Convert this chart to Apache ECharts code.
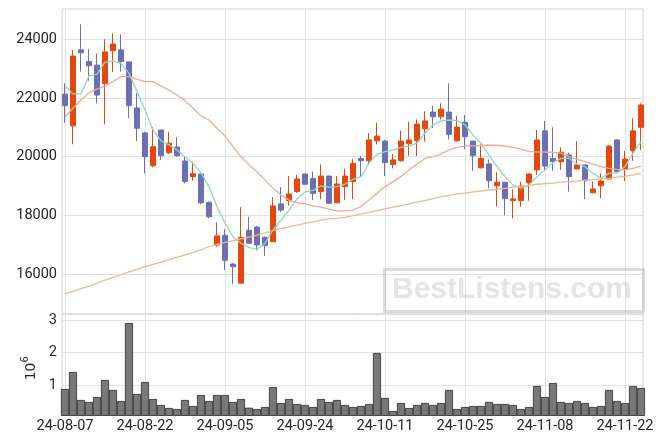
<!DOCTYPE html>
<html>
<head>
<meta charset="utf-8">
<script src="https://cdn.jsdelivr.net/npm/echarts@6/dist/echarts.min.js"></script>
<style>html,body{margin:0;padding:0;background:#fff}#c{width:663px;height:444px}</style>
</head>
<body>
<div id="c"></div>
<script>
const dates = ['24-08-07','24-08-08','24-08-09','24-08-12','24-08-13','24-08-14','24-08-16','24-08-19','24-08-20','24-08-21','24-08-22',
'24-08-23','24-08-26','24-08-27','24-08-28','24-08-29','24-08-30','24-09-02','24-09-03','24-09-04','24-09-05',
'24-09-06','24-09-09','24-09-10','24-09-11','24-09-12','24-09-13','24-09-19','24-09-20','24-09-23','24-09-24',
'24-09-25','24-09-26','24-09-27','24-09-30','24-10-02','24-10-04','24-10-07','24-10-08','24-10-10','24-10-11',
'24-10-14','24-10-15','24-10-16','24-10-17','24-10-18','24-10-21','24-10-22','24-10-23','24-10-24','24-10-25',
'24-10-28','24-10-29','24-10-30','24-10-31','24-11-01','24-11-04','24-11-05','24-11-06','24-11-07','24-11-08',
'24-11-11','24-11-12','24-11-13','24-11-14','24-11-15','24-11-18','24-11-19','24-11-20','24-11-21','24-11-22',
'24-11-25','24-11-26'];
const openP  = [22130,21050,23640,23240,23120,22490,23610,23640,23230,21660,20810,19690,20910,20135,20330,19850,19320,19410,18450,16990,17320,16340,15690,17490,17600,17250,17100,18390,18500,18810,19410,19260,18810,19340,18430,18980,19150,19940,19860,20540,20530,19740,19860,20440,20540,20950,21520,21360,21520,20540,21170,20530,19620,19750,19010,19130,18500,18500,19110,19550,20880,19940,19830,20060,19580,19720,18770,19010,19240,20570,19580,20200,21000];
const closeP = [21740,23430,23540,23100,22100,23570,23840,23240,21740,20970,20000,20340,20030,20460,20030,19150,19420,18430,17950,17300,16470,16250,17250,17050,16990,16970,18320,18180,18730,19240,19060,18750,19340,18410,19070,19340,19770,19860,20570,20700,19800,19890,20530,20570,21110,21220,21360,21620,20760,21010,20680,20030,19940,19180,19130,18570,18560,19000,19410,20570,19680,19830,20150,19320,19720,19180,18900,19170,20360,19490,19920,20880,21760];
const highP  = [22500,23640,24510,23660,23520,24000,24200,24170,23240,22160,20850,21000,20920,20850,20660,20000,19830,19420,18460,17760,17530,16370,18280,17950,17640,17280,18620,18960,19340,19380,19420,19490,19740,19350,19340,19590,19910,20020,20800,21160,20570,20090,20890,21190,21270,21550,21740,21820,22500,21390,21420,20540,20420,19910,19470,19140,18890,19150,19420,20910,21220,21000,20320,20140,20530,19730,19150,19430,20400,20600,20200,21310,21820];
const lowP   = [21160,20420,22900,22590,21820,21100,22880,22900,21310,20530,19430,19640,19890,20090,20000,19090,19180,18380,17900,16930,16140,15660,15660,17040,16800,16620,17090,18120,18330,18770,19050,18520,18550,18400,18410,18520,18550,19320,19770,20420,19340,19600,19830,20030,20020,20510,20970,21270,20590,20510,20250,19520,19600,18920,18300,18000,17900,18300,18500,19380,19520,19520,19550,18810,19570,18550,18750,18580,19230,19460,19170,19860,20230];
const volume = [877000,1400000,538000,477000,631000,1154000,846000,508000,2908000,723000,1092000,569000,385000,292000,262000,538000,354000,692000,508000,692000,692000,477000,569000,302000,262000,323000,938000,446000,569000,415000,385000,323000,569000,477000,538000,385000,323000,354000,415000,1985000,600000,200000,446000,292000,385000,446000,385000,446000,846000,262000,323000,354000,354000,477000,415000,415000,385000,262000,323000,969000,631000,1062000,477000,446000,508000,446000,323000,354000,846000,508000,446000,969000,908000];
const ma5  = [22410,22140,22140,22750,22810,23220,23260,23180,22840,22220,21590,20910,20540,20400,20230,20000,19770,19450,18980,18300,17730,17270,17050,16910,16840,17050,17500,17840,18180,18560,18800,18850,19000,18960,18980,19060,19230,19320,19780,20080,20170,20230,20320,20360,20460,20800,21080,21220,21250,21230,21080,20740,20460,20050,19660,19320,19030,18920,19030,19320,19550,19800,19940,19940,19750,19660,19430,19260,19430,19450,19660,20120,20510];
const ma20 = [21360,21650,21930,22180,22300,22410,22560,22730,22730,22640,22560,22560,22410,22270,22100,21910,21650,21390,21250,20970,20700,20340,20000,19720,19490,19210,18920,18690,18520,18430,18390,18320,18280,18210,18150,18150,18180,18300,18520,18750,18980,19150,19320,19550,19750,19940,20000,20090,20230,20320,20360,20370,20380,20390,20390,20360,20320,20250,20180,20160,20160,20150,20120,20000,19910,19830,19750,19660,19600,19570,19550,19600,19680];
const ma60 = [15320,15410,15500,15590,15680,15790,15890,15980,16070,16160,16250,16330,16410,16490,16570,16650,16730,16820,16930,17010,17080,17140,17200,17260,17330,17400,17480,17550,17610,17670,17730,17780,17840,17880,17900,17930,17990,18050,18100,18160,18220,18280,18330,18390,18450,18500,18570,18630,18680,18730,18760,18800,18830,18860,18890,18920,18960,18990,19020,19060,19080,19100,19130,19150,19170,19200,19220,19240,19260,19300,19330,19380,19430];
const xTickIdx = [0,10,20,30,40,50,60,70];
const priceTicks = [16000,18000,20000,22000,24000];
const volTicks = [1000000,2000000,3000000];

const UP = '#e4480f', DOWN = '#6b6fb3';
const GRIDC = '#e2e2e2', FRAME = '#d2d2d2';
const FONT = 'Roboto';
const chart = echarts.init(document.getElementById('c'), null, {renderer: 'canvas'});
const candleData = dates.map((d, i) => [i, openP[i], closeP[i], lowP[i], highP[i]]);
const xy = arr => arr.map((v, i) => [i, v]);
const lbl = {fontFamily: FONT, fontSize: 14.5, color: '#262626'};
const option = {
  animation: false,
  backgroundColor: '#ffffff',
  grid: [
    {left: 62, top: 9, width: 581, height: 305, show: true, borderColor: FRAME, borderWidth: 1, backgroundColor: 'rgba(0,0,0,0)'},
    {left: 62, top: 314, width: 581, height: 101.5, show: true, borderColor: FRAME, borderWidth: 1, backgroundColor: 'rgba(0,0,0,0)'}
  ],
  xAxis: [
    {type: 'value', gridIndex: 0, min: -0.375, max: 72.25, axisLine: {show: false},
     axisTick: {show: false, customValues: xTickIdx}, axisLabel: {show: false, customValues: xTickIdx},
     splitLine: {show: true, lineStyle: {color: GRIDC, width: 1}}},
    {type: 'value', gridIndex: 1, min: -0.375, max: 72.25, axisLine: {show: false},
     axisTick: {show: false, customValues: xTickIdx},
     axisLabel: Object.assign({show: true, customValues: xTickIdx, margin: 3, formatter: v => dates[Math.round(v)]}, lbl),
     splitLine: {show: true, lineStyle: {color: GRIDC, width: 1}}}
  ],
  yAxis: [
    {type: 'value', gridIndex: 0, min: 14638, max: 25033, axisLine: {show: false},
     axisTick: {show: false, customValues: priceTicks},
     axisLabel: Object.assign({customValues: priceTicks, margin: 5, formatter: v => String(Math.round(v))}, lbl),
     splitLine: {show: true, lineStyle: {color: GRIDC, width: 1}}},
    {type: 'value', gridIndex: 1, min: 61500, max: 3185000, axisLine: {show: false},
     axisTick: {show: false, customValues: volTicks},
     axisLabel: Object.assign({customValues: volTicks, margin: 5, formatter: v => String(Math.round(v / 1e6))}, lbl),
     splitLine: {show: true, lineStyle: {color: GRIDC, width: 1}},
     name: '{a|10}{b|6}', nameLocation: 'middle', nameRotate: 90, nameGap: 20,
     nameTextStyle: {color: '#262626', padding: [0, 7, 0, 0],
       rich: {a: {fontFamily: 'DejaVu Sans', fontSize: 14, lineHeight: 18, verticalAlign: 'bottom', color: '#262626'},
              b: {fontFamily: 'DejaVu Sans', fontSize: 10, lineHeight: 18, verticalAlign: 'top', color: '#262626'}}}}
  ],
  series: [
    {type: 'candlestick', xAxisIndex: 0, yAxisIndex: 0, data: candleData, encode: {x: 0, y: [1, 2, 3, 4]},
     barWidth: 5, itemStyle: {color: UP, color0: DOWN, borderColor: UP, borderColor0: DOWN, borderWidth: 1}, z: 3},
    {type: 'line', xAxisIndex: 0, yAxisIndex: 0, data: xy(ma5), showSymbol: false, smooth: false,
     lineStyle: {color: '#8ed8bd', width: 1.3}, z: 4},
    {type: 'line', xAxisIndex: 0, yAxisIndex: 0, data: xy(ma20), showSymbol: false,
     lineStyle: {color: '#eeaa92', width: 1.3}, z: 4},
    {type: 'line', xAxisIndex: 0, yAxisIndex: 0, data: xy(ma60), showSymbol: false,
     lineStyle: {color: '#efb88c', width: 1.3}, z: 4},
    {type: 'bar', xAxisIndex: 1, yAxisIndex: 1, data: xy(volume), barWidth: 8,
     itemStyle: {color: '#787878', borderColor: '#2a2a2a', borderWidth: 0.8}, z: 3}
  ],
  graphic: [
    {type: 'rect', left: 383, top: 268, shape: {width: 259, height: 42}, z: 1,
     style: {fill: 'rgba(0,0,0,0)', stroke: 'rgba(190,190,190,0.55)', lineWidth: 3}, silent: true},
    {type: 'text', x: 512, y: 289.5, z: 1, silent: true,
     style: {text: 'BestListens.com', font: 'bold 30px "Liberation Sans"', fill: 'rgba(195,195,195,0.45)', align: 'center', verticalAlign: 'middle'}}
  ]
};
chart.setOption(option);
</script>
</body>
</html>
